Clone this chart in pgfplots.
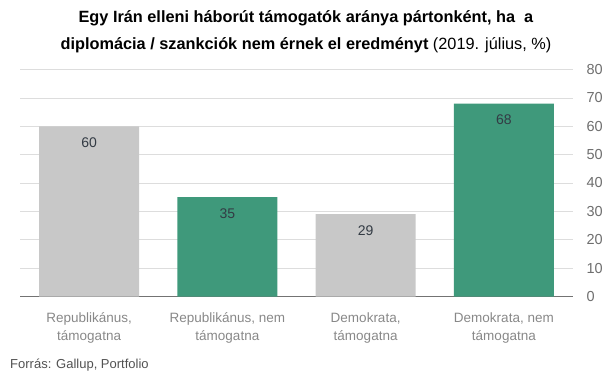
\documentclass[border=0pt]{standalone}
\usepackage{pgfplots}
\pgfplotsset{compat=1.18}
\usepackage{fontspec}
\setmainfont{Liberation Sans}
\definecolor{grn}{HTML}{3F997B}
\definecolor{gry}{HTML}{C8C8C8}
\definecolor{gridc}{HTML}{DDDDDD}
\definecolor{lblc}{HTML}{333B44}
\definecolor{tickc}{HTML}{6E6E6E}
\definecolor{xlc}{HTML}{888888}
\begin{document}
\begin{tikzpicture}[x=1bp,y=1bp]
\path[use as bounding box] (0,0) rectangle (606,379);
\begin{axis}[
  at={(20bp,82.5bp)}, anchor=south west,
  scale only axis, width=553bp, height=227bp,
  xmin=-0.5, xmax=3.5, ymin=0, ymax=80,
  ybar, bar width=100bp, bar shift=0pt,
  axis y line*=right, axis x line*=bottom,
  y axis line style={draw=none},
  x axis line style={draw=black!55, -, line width=0.8pt},
  ytick={0,10,...,80}, ymajorgrids,
  grid style={draw=gridc, line width=0.7pt},
  major tick length=0pt,
  yticklabel style={font=\fontsize{14.5bp}{16bp}\selectfont, text=tickc, xshift=10bp},
  /pgf/number format/assume math mode=true,
  xtick={0,1,2,3},
  xticklabels={{Republikánus,\\támogatna},{Republikánus, nem\\támogatna},{Demokrata,\\támogatna},{Demokrata, nem\\támogatna}},
  xticklabel style={font=\fontsize{13.5bp}{18bp}\selectfont, text=xlc, align=center, yshift=-13bp},
  nodes near coords,
  nodes near coords style={anchor=north, yshift=-8bp, font=\fontsize{14bp}{16bp}\selectfont, text=lblc},
]
\addplot[fill=gry, draw=none] coordinates {(0,60) (2,29)};
\addplot[fill=grn, draw=none] coordinates {(1,35) (3,68)};
\end{axis}
\node[align=center, font=\fontsize{16.3bp}{27bp}\selectfont] at (306,347.5) {\textbf{Egy Irán elleni háborút támogatók aránya pártonként, ha\ \ a}\\\textbf{diplomácia / szankciók nem érnek el eredményt} (2019. július, \%)};
\node[anchor=west, font=\fontsize{13bp}{16bp}\selectfont, text=black!68, inner sep=0] at (10,14) {Forrás: Gallup, Portfolio};
\end{tikzpicture}
\end{document}
